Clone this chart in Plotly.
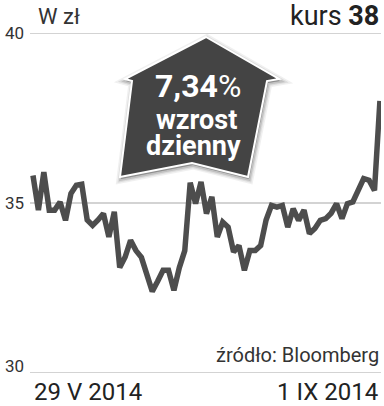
import plotly.graph_objects as go

# ---- data ----
day_index = list(range(65))
kurs = [35.81, 34.79, 35.91, 34.79, 34.79, 35.03, 34.49, 35.28, 35.52, 35.55,
        34.5, 34.34, 34.5, 34.69, 34.0, 34.74, 33.1, 33.41, 33.9, 33.6,
        33.4, 32.95, 32.4, 32.7, 33.02, 33.02, 32.43, 33.1, 33.6, 35.6,
        34.98, 35.62, 34.69, 35.18, 34.0, 34.44, 34.29, 33.56, 33.75, 33.02,
        33.6, 33.6, 33.75, 34.5, 34.93, 34.88, 34.93, 34.29, 34.83, 34.49,
        34.79, 34.1, 34.25, 34.49, 34.54, 34.7, 34.98, 34.54, 34.98, 35.03,
        35.35, 35.72, 35.67, 35.37, 38.0]
y_ticks = [30, 35, 40]
y_tick_labels = ["30", "35", "40"]
date_labels = ["29 V 2014", "1 IX 2014"]
unit_label = "W zł"
kurs_label = "kurs <b>38</b>"
badge_lines = ["<b>7,34</b>%", "<b>wzrost</b>", "<b>dzienny</b>"]
source_label = "źródło: Bloomberg"

W, H = 384, 406
L, R, T, B = 30, 3, 33, 33
PW, PH = W - L - R, H - T - B


def px(x, y):
    return (x - L) / PW, (H - B - y) / PH


fig = go.Figure()
fig.add_trace(go.Scatter(
    x=day_index, y=kurs, mode="lines",
    line=dict(color="#4d4d4d", width=5.5),
    hoverinfo="skip", showlegend=False,
))

# gridlines
shapes = []
for v in y_ticks:
    shapes.append(dict(type="line", xref="paper", yref="y", x0=0, x1=1, y0=v, y1=v,
                       line=dict(color="#c4c4c4", width=1.5), layer="below"))

# badge (house-shaped up arrow)
badge = [(206, 37), (279, 79), (267, 81), (248, 177), (192, 163), (120, 177), (132, 81), (125, 79)]


def path_of(points, dx=0, dy=0):
    parts = []
    for i, (x, y) in enumerate(points):
        a, b = px(x + dx, y + dy)
        parts.append(("M" if i == 0 else "L") + f"{a:.5f},{b:.5f}")
    return " ".join(parts) + " Z"


for w, op in [(9, 0.10), (6, 0.15), (3.5, 0.25)]:
    shapes.append(dict(type="path", xref="paper", yref="paper", path=path_of(badge, 1, 2),
                       fillcolor="rgba(120,120,120,0.3)", line=dict(color=f"rgba(110,110,110,{op})", width=w)))
shapes.append(dict(type="path", xref="paper", yref="paper", path=path_of(badge),
                   fillcolor="#444444", line=dict(color="white", width=2)))

annotations = []
font_main = "Roboto, Open Sans, sans-serif"
# y tick labels
for v, lab in zip(y_ticks, y_tick_labels):
    annotations.append(dict(x=0, y=v, xref="paper", yref="y", text=lab, showarrow=False,
                            xanchor="right", yanchor="middle", xshift=-4,
                            yshift=(7 if v == 30 else 0),
                            font=dict(family=font_main, size=17, color="#333333")))
# date labels
ax0, ay0 = px(32, 392)
ax1, ay1 = px(380, 392)
annotations.append(dict(x=ax0, y=ay0, xref="paper", yref="paper", text=date_labels[0], showarrow=False,
                        xanchor="left", yanchor="middle",
                        font=dict(family=font_main, size=24, color="#222222")))
annotations.append(dict(x=ax1, y=ay1, xref="paper", yref="paper", text=date_labels[1], showarrow=False,
                        xanchor="right", yanchor="middle",
                        font=dict(family=font_main, size=24, color="#222222")))
# source
sx, sy = px(381, 355)
annotations.append(dict(x=sx, y=sy, xref="paper", yref="paper", text=source_label, showarrow=False,
                        xanchor="right", yanchor="middle",
                        font=dict(family=font_main, size=20, color="#333333")))
# header
ux, uy = px(36, 17)
annotations.append(dict(x=ux, y=uy, xref="paper", yref="paper", text=unit_label, showarrow=False,
                        xanchor="left", yanchor="middle",
                        font=dict(family=font_main, size=22, color="#333333")))
kx, ky = px(381, 16)
annotations.append(dict(x=kx, y=ky, xref="paper", yref="paper", text=kurs_label, showarrow=False,
                        xanchor="right", yanchor="middle",
                        font=dict(family=font_main, size=27, color="#222222")))
# badge text
for (bx, by, size), txt in zip([(198, 86, 32), (196, 120, 27), (193, 146, 27)], badge_lines):
    a, b = px(bx, by)
    annotations.append(dict(x=a, y=b, xref="paper", yref="paper", text=txt, showarrow=False,
                            xanchor="center", yanchor="middle",
                            font=dict(family=font_main, size=size, color="white")))

fig.update_layout(
    width=W, height=H,
    margin=dict(l=L, r=R, t=T, b=B),
    paper_bgcolor="white", plot_bgcolor="white",
    xaxis=dict(range=[-0.55, 64.2], visible=False, fixedrange=True),
    yaxis=dict(range=[30, 40], visible=False, fixedrange=True),
    shapes=shapes, annotations=annotations,
    showlegend=False,
)
fig.write_html("out.html")
